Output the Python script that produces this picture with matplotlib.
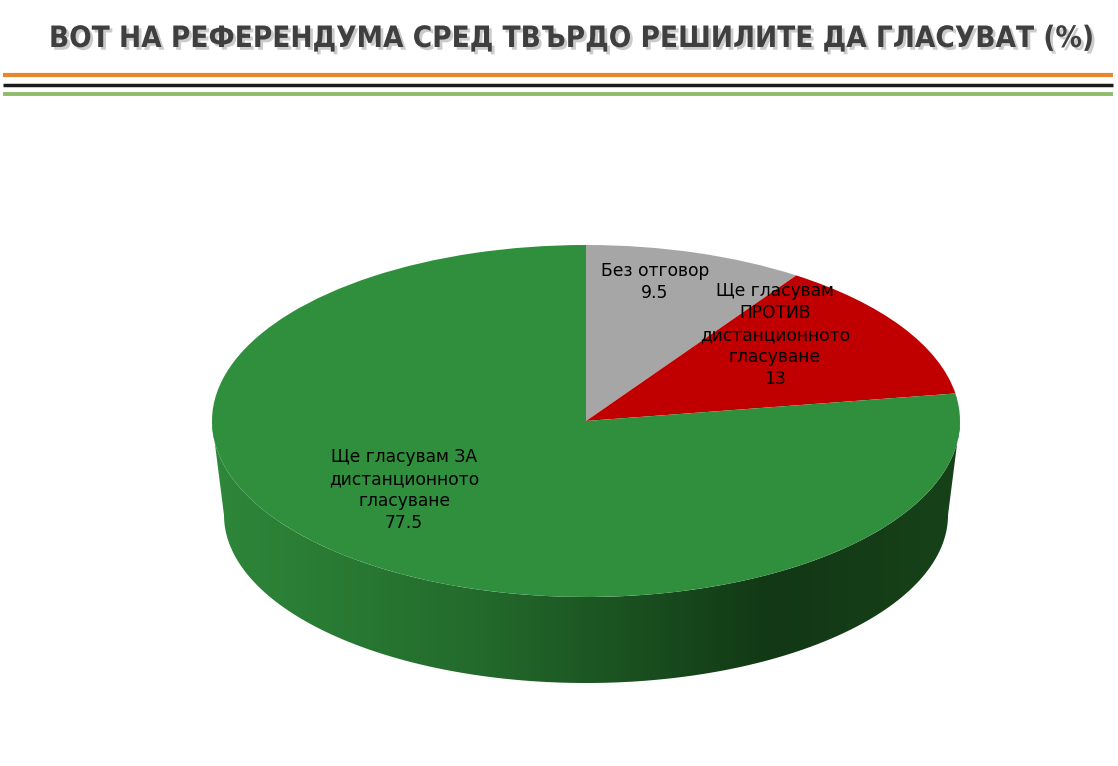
import numpy as np
import matplotlib
matplotlib.use('Agg')
import matplotlib.pyplot as plt
from matplotlib.lines import Line2D
from matplotlib.colors import LinearSegmentedColormap
from matplotlib.patches import Polygon
import matplotlib.patheffects as pe

title = "ВОТ НА РЕФЕРЕНДУМА СРЕД ТВЪРДО РЕШИЛИТЕ ДА ГЛАСУВАТ (%)"
categories = ["Без отговор",
              "Ще гласувам\nПРОТИВ\nдистанционното\nгласуване",
              "Ще гласувам ЗА\nдистанционното\nгласуване"]
values = [9.5, 13, 77.5]
colors = ['#a6a6a6', '#c00000', '#2f8f3d']
# label anchor positions in image pixels (layout only)
label_px = [(655, 282), (775, 335), (404, 490)]

W, H = 1118, 766
fig = plt.figure(figsize=(W / 100, H / 100), dpi=100)
fig.patch.set_facecolor('white')

# pie geometry in pixels
cx, cy, rx, ry = 586, 421, 374, 176
rxb, ryb, bottom_px = 362, 168, 683       # lower rim of the slab (perspective)
d_c = ((bottom_px - ryb) - cy) / ry        # centre offset of lower rim (data units)
sxb, syb = rxb / rx, ryb / ry
ylow = d_c + syb
ax = fig.add_axes([(cx - rx) / W, (H - bottom_px) / H,
                   2 * rx / W, (bottom_px - (cy - ry)) / H])

# side of the 3D pie with horizontal gradient
t = np.linspace(np.pi, 2 * np.pi, 300)
xs = np.concatenate([np.cos(t), sxb * np.cos(t[::-1])])
ys = np.concatenate([np.sin(t), syb * np.sin(t[::-1]) - d_c])
side = Polygon(np.column_stack([xs, ys]), closed=True, facecolor='none', edgecolor='none')
ax.add_patch(side)
cmap = LinearSegmentedColormap.from_list(
    'side', [(0, '#2e873a'), (0.35, '#236b2c'), (0.75, '#123815'), (1.0, '#174219')])
grad = np.linspace(0, 1, 512).reshape(1, -1)
im = ax.imshow(grad, cmap=cmap, extent=(-1, 1, -ylow, 0), aspect='auto',
               interpolation='bicubic', zorder=1)
im.set_clip_path(side)

wedges, _ = ax.pie(values, colors=colors, startangle=90, counterclock=False,
                   radius=1, center=(0, 0), wedgeprops=dict(linewidth=0))
for w in wedges:
    w.set_zorder(2)

ax.set_xlim(-1, 1)
ax.set_ylim(-ylow, 1)
ax.set_aspect('auto')
ax.axis('off')

for cat, val, (px, py) in zip(categories, values, label_px):
    ax.text((px - cx) / rx, (cy - py) / ry, f"{cat}\n{val:g}", ha='center', va='center',
            fontsize=12.3, color='black', linespacing=1.28, zorder=5,
            family=['DejaVu Sans'])

ttl = fig.text(572 / W, 1 - 39 / H, title, ha='center', va='center', fontsize=27,
               fontweight='bold', fontstretch='condensed', color='#3f3f3f',
               family=['DejaVu Sans'],
               path_effects=[pe.withSimplePatchShadow(offset=(2, -2), shadow_rgbFace='#999999',
                                                      alpha=0.5)])
fig.canvas.draw()
bb = ttl.get_window_extent(renderer=fig.canvas.get_renderer())
ttl.set_fontsize(27 * 1045 / bb.width)

for y, c, lw in [(75, '#e8862c', 3.0), (84.5, '#1a1a1a', 2.5), (94, '#8fbc6b', 2.8)]:
    fig.add_artist(Line2D([3 / W, 1113 / W], [1 - y / H, 1 - y / H],
                          transform=fig.transFigure, color=c, lw=lw, solid_capstyle='butt'))

fig.savefig('out.png', dpi=100, facecolor='white')
